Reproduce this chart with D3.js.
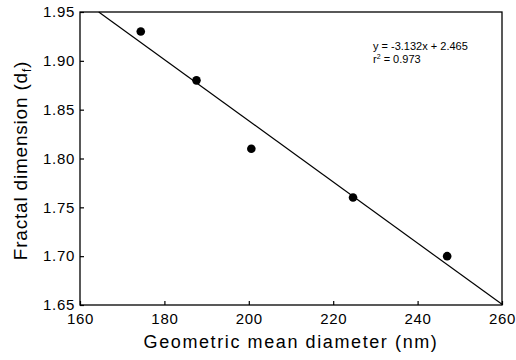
<!DOCTYPE html>
<html>
<head>
<meta charset="utf-8">
<script src="https://cdn.jsdelivr.net/npm/d3@7"></script>
<style>
  html, body { margin: 0; padding: 0; background: #fff; }
  svg { display: block; font-family: "Liberation Sans", Arial, Helvetica, sans-serif; }
</style>
</head>
<body>
<svg id="chart" width="516" height="360"></svg>
<script>
// ---- data ----
const diameters = [174.4, 187.6, 200.6, 224.7, 247.0];     // nm
const fractalDims = [1.93, 1.88, 1.81, 1.76, 1.70];
const fitSlope = -3.132;      // per µm
const fitIntercept = 2.465;
const fitR2 = 0.973;
const xTicks = [160, 180, 200, 220, 240, 260];
const yTicks = [1.65, 1.70, 1.75, 1.80, 1.85, 1.90, 1.95];
const xDomain = [160, 260];
const yDomain = [1.65, 1.95];
const xTitle = "Geometric mean diameter (nm)";
const yTitleMain = "Fractal dimension (d";
const yTitleSub = "f";

// ---- layout ----
const svg = d3.select("#chart");
const m = { left: 80, right: 14, top: 12, bottom: 55 };
const W = 516, H = 360;
const x = d3.scaleLinear().domain(xDomain).range([m.left, W - m.right]);
const y = d3.scaleLinear().domain(yDomain).range([H - m.bottom, m.top]);

// frame
svg.append("rect")
  .attr("x", x(xDomain[0])).attr("y", y(yDomain[1]))
  .attr("width", x(xDomain[1]) - x(xDomain[0]))
  .attr("height", y(yDomain[0]) - y(yDomain[1]))
  .attr("fill", "none").attr("stroke", "#000").attr("stroke-width", 1.3);

// axes
const xAxis = svg.append("g")
  .attr("transform", `translate(0,${y(yDomain[0])})`)
  .call(d3.axisBottom(x).tickValues(xTicks).tickFormat(d3.format("d"))
    .tickSizeInner(-4).tickSizeOuter(0).tickPadding(8));
const yAxis = svg.append("g")
  .attr("transform", `translate(${x(xDomain[0])},0)`)
  .call(d3.axisLeft(y).tickValues(yTicks).tickFormat(d3.format(".2f"))
    .tickSizeInner(-4).tickSizeOuter(0).tickPadding(5));

[xAxis, yAxis].forEach(g => {
  g.select(".domain").remove();
  g.selectAll(".tick line").attr("stroke", "#000").attr("stroke-width", 1.2);
  g.selectAll(".tick text").attr("font-size", 15).attr("fill", "#000")
    .attr("letter-spacing", 0.7)
    .attr("font-family", "Liberation Sans, Arial, sans-serif");
});

// regression line: y = slope * (x in µm) + intercept, clipped to plot
const fit = d => fitSlope * d / 1000 + fitIntercept;
const xStart = (yDomain[1] - fitIntercept) / fitSlope * 1000;
const fitPts = [xStart, xDomain[1]].map(d => [d, fit(d)]);
svg.append("path")
  .datum(fitPts)
  .attr("d", d3.line().x(d => x(d[0])).y(d => y(d[1])))
  .attr("fill", "none").attr("stroke", "#000").attr("stroke-width", 1.2);

// points
svg.append("g").selectAll("circle")
  .data(diameters.map((d, i) => [d, fractalDims[i]]))
  .join("circle")
  .attr("cx", d => x(d[0])).attr("cy", d => y(d[1]))
  .attr("r", 4.3).attr("fill", "#000");

// annotation
const ann = svg.append("g").attr("font-size", 11).attr("fill", "#000");
ann.append("text").attr("x", 373).attr("y", 50)
  .text(`y = ${fitSlope}x + ${fitIntercept}`);
const t2 = ann.append("text").attr("x", 373).attr("y", 63);
t2.append("tspan").text("r");
t2.append("tspan").attr("font-size", 7).attr("dy", -4).text("2");
t2.append("tspan").attr("dy", 4).text(` = ${fitR2}`);

// axis titles
svg.append("text")
  .attr("x", (x(xDomain[0]) + x(xDomain[1])) / 2).attr("y", 348)
  .attr("text-anchor", "middle").attr("font-size", 18)
  .attr("letter-spacing", 1.6)
  .text(xTitle);

const yt = svg.append("text")
  .attr("transform", `translate(27,${(y(yDomain[0]) + y(yDomain[1])) / 2 + 2}) rotate(-90)`)
  .attr("text-anchor", "middle").attr("font-size", 19)
  .attr("letter-spacing", 0.8);
yt.append("tspan").text(yTitleMain);
yt.append("tspan").attr("font-size", 12).attr("dy", 4).text(yTitleSub);
yt.append("tspan").attr("dy", -4).text(")");
</script>
</body>
</html>
